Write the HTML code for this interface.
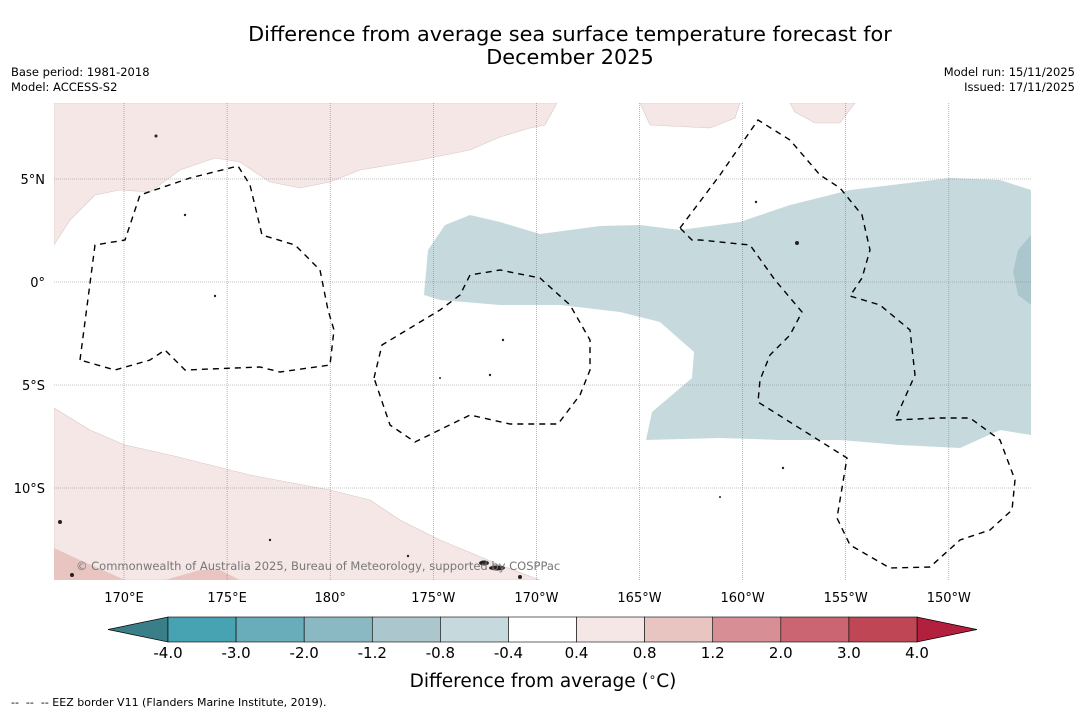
<!DOCTYPE html>
<html><head><meta charset="utf-8"><style>
body{margin:0;background:#fff;width:1085px;height:713px;overflow:hidden;font-family:"DejaVu Sans","Liberation Sans",sans-serif}
svg{display:block}
</style></head><body>
<svg id="c" width="1085" height="713" viewBox="0 0 1085 713">
<text x="570" y="41" text-anchor="middle" font-size="20.8">Difference from average sea surface temperature forecast for</text>
<text x="570" y="64" text-anchor="middle" font-size="20.8">December 2025</text>
<text x="11" y="76" font-size="11.5">Base period: 1981-2018</text>
<text x="11" y="91" font-size="11.5">Model: ACCESS-S2</text>
<text x="1075" y="76" font-size="11.5" text-anchor="end">Model run: 15/11/2025</text>
<text x="1075" y="91" font-size="11.5" text-anchor="end">Issued: 17/11/2025</text>
<defs><clipPath id="mc"><rect x="54" y="103" width="977" height="477"/></clipPath></defs>
<g clip-path="url(#mc)">
<path fill="#f4e7e6" stroke="#d8c8c6" stroke-width="0.6" d="M54,103 L54,245 L70,220 L95,195 L120,190 L150,192 L180,170 L215,158 L240,162 L270,182 L300,188 L330,182 L360,170 L420,160 L470,150 L500,137 L530,128 L545,125 L557,103 Z"/>
<path fill="#f4e7e6" stroke="#d8c8c6" stroke-width="0.6" d="M640,103 L650,125 L710,128 L735,118 L740,103 Z"/>
<path fill="#f4e7e6" stroke="#d8c8c6" stroke-width="0.6" d="M790,103 L795,112 L815,123 L840,123 L855,103 Z"/>
<path fill="#f4e7e6" stroke="#d8c8c6" stroke-width="0.6" d="M54,408 L90,430 L125,445 L170,455 L250,475 L330,490 L370,500 L400,520 L440,540 L500,565 L540,580 L54,580 Z"/>
<path fill="#e8c5c1" d="M54,548 L80,560 L125,580 L54,580 Z M165,580 L200,570 L220,570 L240,580 Z"/>
<path fill="#c6dadd" d="M424,295 L428,250 L445,225 L470,215 L500,222 L540,234 L600,226 L640,225 L680,230 L740,222 L790,205 L850,190 L950,178 L1000,180 L1031,190 L1031,435 L1000,430 L960,448 L900,445 L840,440 L780,440 L720,438 L646,440 L652,412 L692,378 L694,352 L660,322 L620,312 L560,305 L500,305 L440,300 Z"/>
<path fill="#abc6cc" d="M1031,235 L1018,250 L1013,272 L1018,295 L1031,305 Z"/>
<g id="grid" stroke="#888" stroke-width="0.6" stroke-dasharray="1,1"></g>
<g fill="none" stroke="#000" stroke-width="1.4" stroke-dasharray="6,5">
<path d="M80,360 L95,245 L125,240 L140,195 L190,178 L238,166 L250,185 L262,235 L295,245 L320,270 L328,310 L334,330 L330,365 L280,372 L260,367 L185,370 L165,350 L150,360 L115,370 Z"/>
<path d="M374,378 L382,345 L440,310 L460,295 L470,275 L500,270 L540,278 L570,305 L590,340 L590,370 L580,395 L558,424 L510,424 L470,415 L415,442 L390,425 Z"/>
<path d="M680,228 L720,175 L758,120 L790,140 L820,175 L840,188 L862,215 L870,250 L862,278 L850,296 L880,305 L910,330 L915,375 L895,420 L940,418 L970,418 L1000,440 L1015,480 L1012,510 L990,530 L960,540 L930,567 L890,568 L850,545 L837,518 L847,458 L758,402 L760,380 L770,355 L790,335 L802,312 L775,280 L750,245 L700,240 L692,240 Z"/>
</g>
<g fill="#222">
<ellipse cx="497" cy="568" rx="8" ry="2.5"/><ellipse cx="484" cy="563" rx="5" ry="2.5"/><circle cx="60" cy="522" r="2"/><circle cx="72" cy="575" r="2"/><circle cx="156" cy="136" r="1.5"/><circle cx="797" cy="243" r="2"/><circle cx="756" cy="202" r="1.2"/><circle cx="185" cy="215" r="1.2"/><circle cx="215" cy="296" r="1.2"/><circle cx="503" cy="340" r="1.2"/><circle cx="490" cy="375" r="1.2"/><circle cx="783" cy="468" r="1.2"/><circle cx="270" cy="540" r="1.2"/><circle cx="408" cy="556" r="1.2"/><circle cx="440" cy="378" r="1"/><circle cx="720" cy="497" r="1"/><circle cx="520" cy="577" r="2"/>
</g>
<text x="76" y="570" font-size="11.5" fill="#777">© Commonwealth of Australia 2025, Bureau of Meteorology, supported by COSPPac</text>
</g>
<g id="axes" font-size="13"></g>
<g id="cbar"></g>
<text x="543" y="687" text-anchor="middle" font-size="18.5">Difference from average (<tspan font-size="12" dy="-6">∘</tspan><tspan dy="6">C)</tspan></text>
<text x="11" y="706" font-size="11" xml:space="preserve">--  --  -- EEZ border V11 (Flanders Marine Institute, 2019).</text>
</svg>
<script>
const lonTicks=[170,175,180,-175,-170,-165,-160,-155,-150];
const lonLabels=["170°E","175°E","180°","175°W","170°W","165°W","160°W","155°W","150°W"];
const latTicks=[5,0,-5,-10];
const latLabels=["5°N","0°","5°S","10°S"];
const cbarBounds=["-4.0","-3.0","-2.0","-1.2","-0.8","-0.4","0.4","0.8","1.2","2.0","3.0","4.0"];
const cbarColors=["#47a2b2","#68adb9","#8ab9c4","#abc6cc","#c6dadd","#ffffff","#f4e7e6","#e8c5c1","#d78e95","#cb6571","#bf4655"];
const NS="http://www.w3.org/2000/svg";
function xLon(l){const e=l<0?360+l:l;return 124+(e-170)*20.62;}
function yLat(l){return 282-l*20.6;}
const grid=document.getElementById('grid'),axes=document.getElementById('axes'),cb=document.getElementById('cbar');
function mk(t,a,p){const e=document.createElementNS(NS,t);for(const k in a)e.setAttribute(k,a[k]);p.appendChild(e);return e;}
lonTicks.forEach((l,i)=>{const x=xLon(l);
 const g=mk('line',{x1:x,x2:x,y1:103,y2:580},grid);
 
 
 const t=mk('text',{x:x,y:602,'text-anchor':'middle'},axes);t.textContent=lonLabels[i];
 
 });
latTicks.forEach((l,i)=>{const y=yLat(l);
 const g=mk('line',{x1:54,x2:1031,y1:y,y2:y},grid);
 
 
 const t=mk('text',{x:45,y:y+5,'text-anchor':'end'},axes);t.textContent=latLabels[i];
 
 });
const x0=168,x1=917,n=cbarColors.length,w=(x1-x0)/n,y0=617,h=25;
let tri=mk('polygon',{points:`${x0},${y0} ${x0},${y0+h} 108,${y0+h/2}`,fill:'#3a7f88',stroke:'#000','stroke-width':0.7},cb);


tri=mk('polygon',{points:`${x1},${y0} ${x1},${y0+h} 977,${y0+h/2}`,fill:'#b3203d',stroke:'#000','stroke-width':0.7},cb);


cbarColors.forEach((c,i)=>{const r=mk('rect',{x:x0+i*w,y:y0,width:w,height:h,fill:c,stroke:'#000','stroke-width':0.6},cb);
 
 });
cbarBounds.forEach((b,i)=>{const t=mk('text',{x:x0+i*w,y:658,'text-anchor':'middle','font-size':15},cb);t.textContent=b;
 
 });
</script>
</body></html>
